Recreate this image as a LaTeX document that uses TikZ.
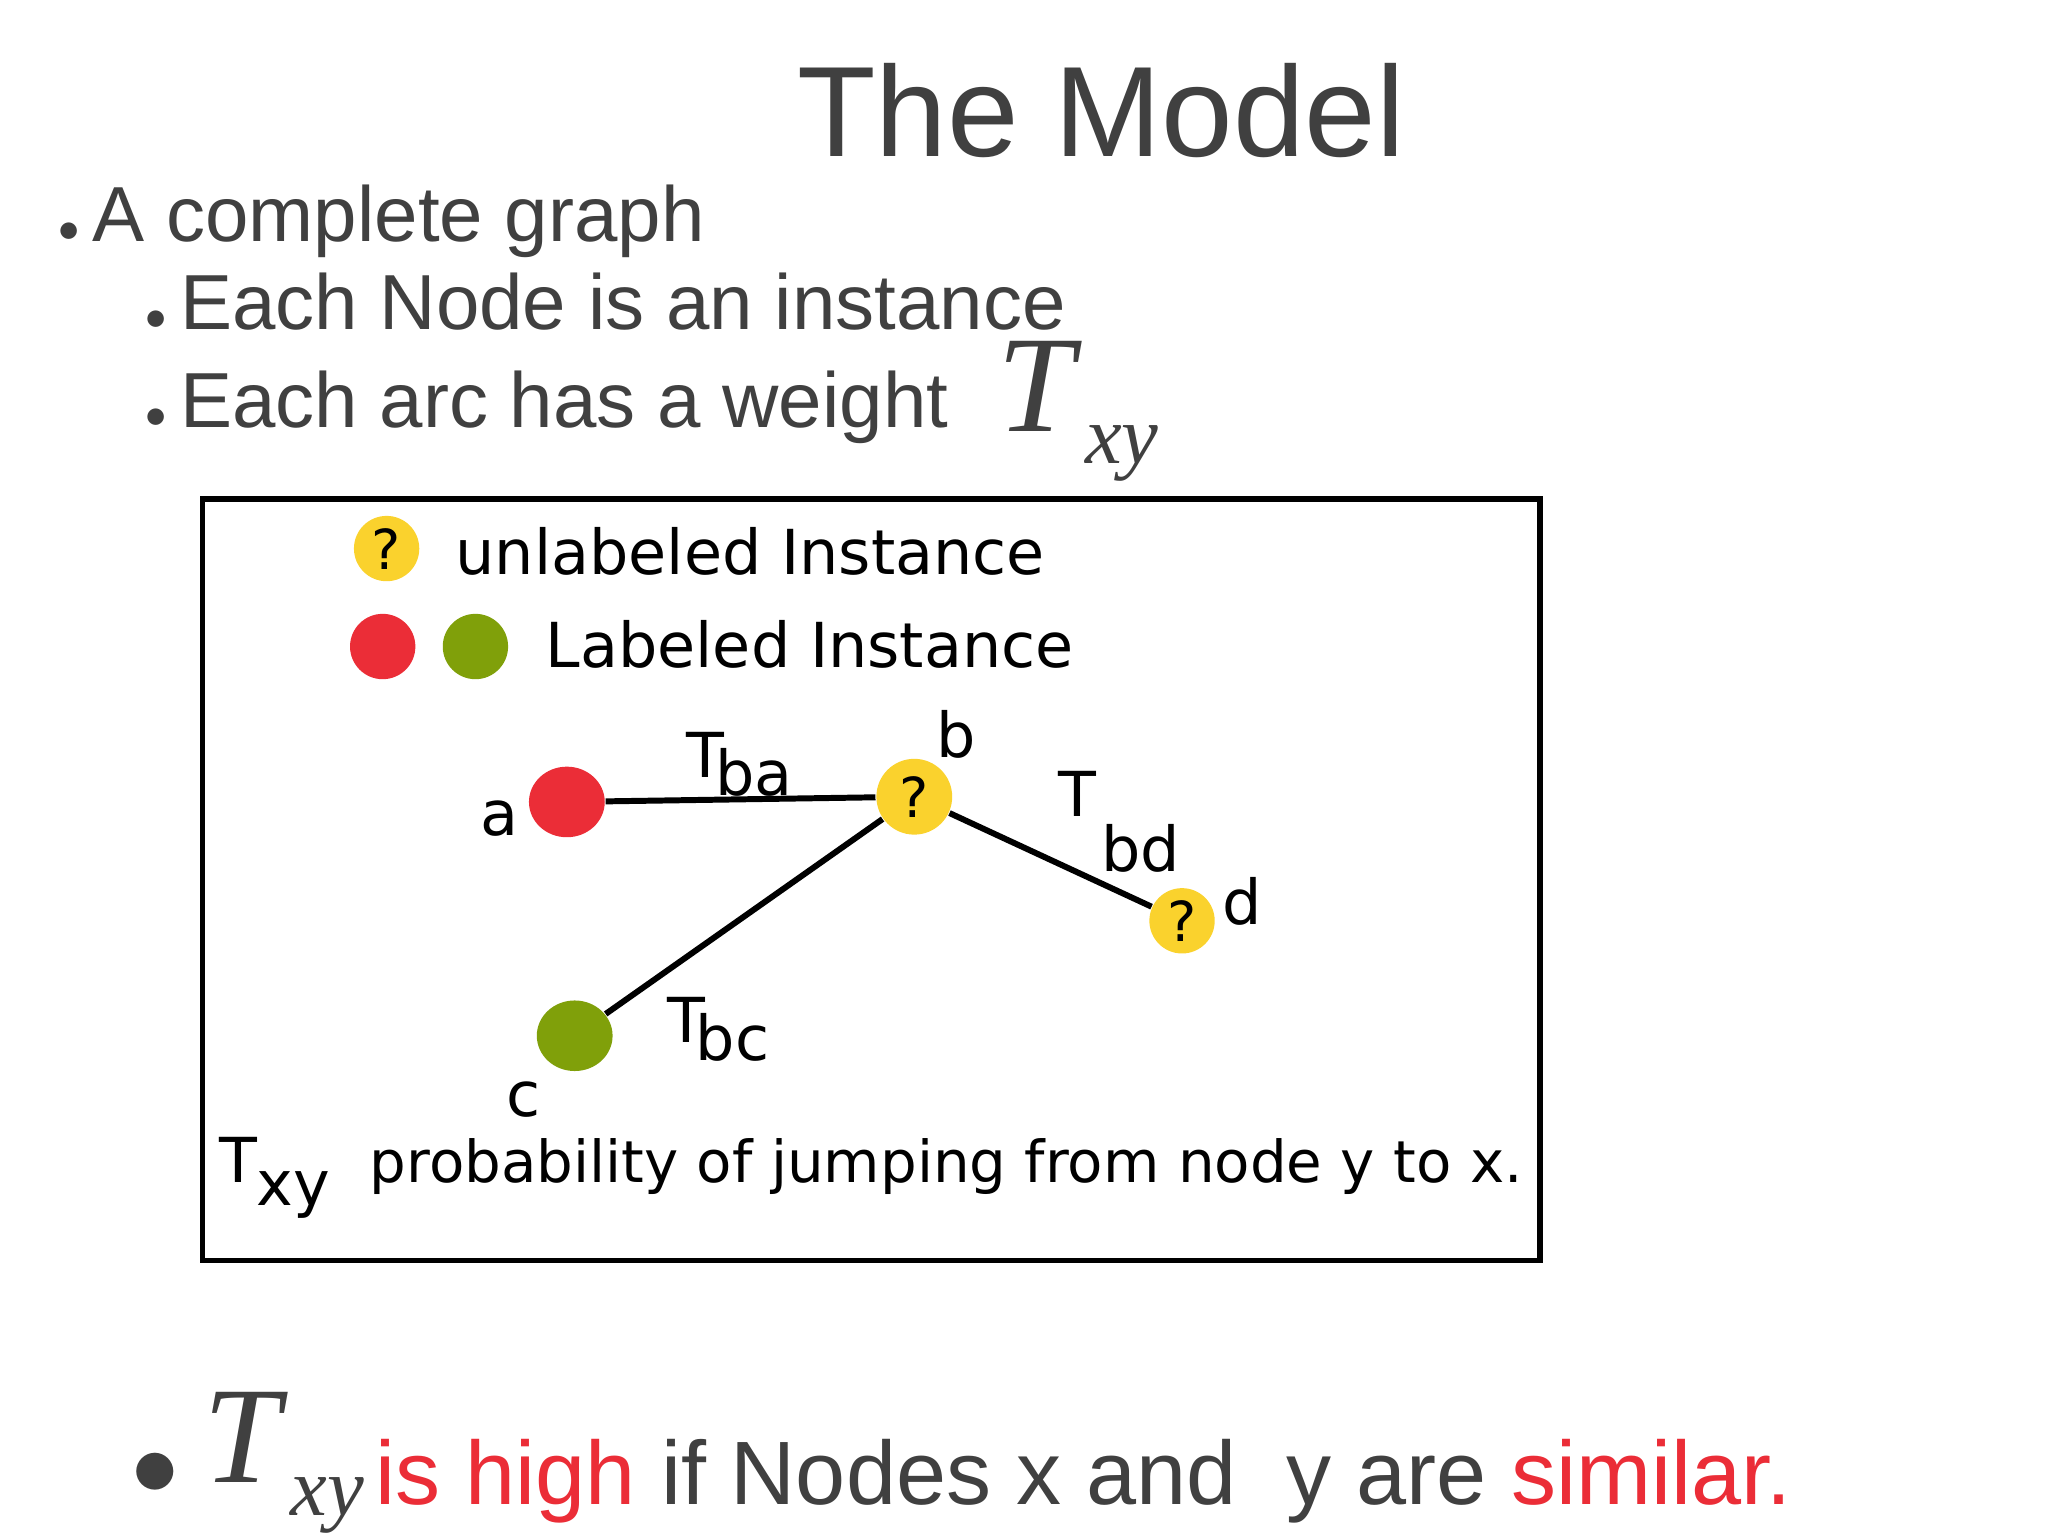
\documentclass[tikz,border=0pt]{standalone}
\usepackage{fontspec}
\usetikzlibrary{shapes.geometric}
\setmainfont{Liberation Sans}
\newfontfamily\dv{DejaVu Sans}
\newfontfamily\ser{Liberation Serif}
\definecolor{txt}{RGB}{64,64,64}
\definecolor{myred}{RGB}{235,45,55}
\definecolor{myyel}{RGB}{250,210,45}
\definecolor{mygrn}{RGB}{128,160,10}
\begin{document}
\begin{tikzpicture}[x=0.01cm,y=-0.01cm,
  txtn/.style={inner sep=0,anchor=base west,text=txt},
  dg/.style={inner sep=0,anchor=base west,font=\dv\fontsize{13.5}{16}\selectfont},
  yel/.style={circle,fill=myyel,minimum size=0.5cm,inner sep=0,font=\dv\fontsize{12}{14}\selectfont},
  edge/.style={line width=1.3pt}]
\useasboundingbox (0,0) rectangle (1568,1176);
\node[txtn,anchor=base] (title) at (843,120) {\fontsize{28}{32}\selectfont The Model};
\node[txtn] (b1) at (44,185) {\fontsize{17}{22}\selectfont {\small$\bullet$}\,A complete graph};
\node[txtn] (b2) at (111,252) {\fontsize{17}{22}\selectfont {\small$\bullet$}\,Each Node is an instance};
\node[txtn] (b3) at (111,327) {\fontsize{17}{22}\selectfont {\small$\bullet$}\,Each arc has a weight};
\node[txtn] (T1) at (763,330) {\ser\itshape\fontsize{30}{32}\selectfont T};
\node[txtn] (xy1) at (830,355) {\ser\itshape\fontsize{18}{20}\selectfont xy};
\draw[line width=1.2pt] (155,382) rectangle (1179,965);
\node[yel] (lq) at (296,420) {?};
\node[dg] (l1) at (348,440) {unlabeled Instance};
\node[circle,fill=myred,minimum size=0.5cm,inner sep=0] (lr) at (293,495) {};
\node[circle,fill=mygrn,minimum size=0.5cm,inner sep=0] (lg) at (364,495) {};
\node[dg] (l2) at (417,511) {Labeled Instance};
\node[ellipse,fill=myred,minimum width=0.58cm,minimum height=0.54cm,inner sep=0] (a) at (434,614) {};
\node[yel,minimum size=0.58cm] (b) at (700,610) {?};
\node[yel] (d) at (905,705) {?};
\node[ellipse,fill=mygrn,minimum width=0.58cm,minimum height=0.54cm,inner sep=0] (c) at (440,793) {};
\draw[edge] (a) -- (b);
\draw[edge] (b) -- (c);
\draw[edge] (b) -- (d);
\node[dg] (la) at (367,640) {a};
\node[dg] (lb) at (716,580) {b};
\node[dg] (ld) at (935,708) {d};
\node[dg] (lc) at (387,855) {c};
\node[dg] (tba) at (525,595) {T\kern-2pt\raisebox{-4pt}{ba}};
\node[dg] (tbd) at (810,625) {T\kern1pt\raisebox{-12pt}{bd}};
\node[dg] (tbc) at (510,798) {T\kern-2pt\raisebox{-4pt}{bc}};
\node[dg] (txy) at (167,905) {T\raisebox{-5pt}{xy}\ \ \fontsize{12.6}{16}\selectfont probability of jumping from node y to x.};
\node[txtn] (bb) at (100,1145) {\fontsize{20}{22}\selectfont $\bullet$};
\node[txtn] (T2) at (155,1135) {\ser\itshape\fontsize{30}{32}\selectfont T};
\node[txtn] (xy2) at (222,1160) {\ser\itshape\fontsize{18}{20}\selectfont xy};
\node[txtn] (bt) at (287,1152) {\fontsize{19.6}{22}\selectfont \textcolor{myred}{is high} if Nodes x and\ \ y are \textcolor{myred}{similar.}};
\end{tikzpicture}
\end{document}
